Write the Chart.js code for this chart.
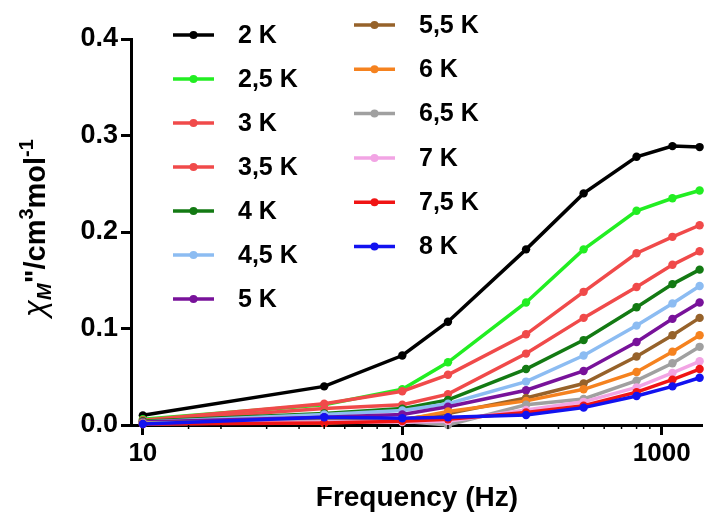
<!DOCTYPE html>
<html>
<head>
<meta charset="utf-8">
<script src="https://cdn.jsdelivr.net/npm/chart.js@4.4.1/dist/chart.umd.min.js"></script>
<style>
  html, body { margin: 0; padding: 0; background: #fff; }
  #wrap { width: 707px; height: 515px; position: relative; }
</style>
</head>
<body>
<div id="wrap"><canvas id="acChart"></canvas></div>
<script>
// frequencies (Hz) and chi'' values per temperature
const freqs = [10, 50, 100, 150, 300, 500, 800, 1100, 1400];
const temps = ['2 K', '2,5 K', '3 K', '3,5 K', '4 K', '4,5 K', '5 K', '5,5 K', '6 K', '6,5 K', '7 K', '7,5 K', '8 K'];
const colors = ['#000000', '#22ee22', '#f04a4a', '#f04a4a', '#137a13', '#8cbcf2', '#78129a',
                '#96622a', '#f5821f', '#a0a0a0', '#f2a4e4', '#f01414', '#1212f0'];

const chi2K   = [0.010, 0.040, 0.072, 0.107, 0.182, 0.240, 0.278, 0.289, 0.288];
const chi25K  = [0.006, 0.021, 0.037, 0.065, 0.127, 0.182, 0.222, 0.235, 0.243];
const chi3K   = [0.005, 0.022, 0.035, 0.052, 0.094, 0.138, 0.178, 0.195, 0.207];
const chi35K  = [0.004, 0.017, 0.021, 0.032, 0.074, 0.111, 0.143, 0.166, 0.180];
const chi4K   = [0.004, 0.012, 0.017, 0.026, 0.058, 0.088, 0.122, 0.146, 0.161];
const chi45K  = [0.003, 0.011, 0.015, 0.022, 0.045, 0.072, 0.103, 0.126, 0.144];
const chi5K   = [0.003, 0.008, 0.011, 0.019, 0.036, 0.056, 0.086, 0.110, 0.127];
const chi55K  = [0.002, 0.005, 0.006, 0.012, 0.028, 0.043, 0.071, 0.093, 0.111];
const chi6K   = [0.002, 0.002, 0.005, 0.014, 0.025, 0.037, 0.055, 0.076, 0.093];
const chi65K  = [0.002, 0.004, 0.004, 0.000, 0.021, 0.027, 0.046, 0.064, 0.081];
const chi7K   = [0.001, 0.003, 0.003, 0.004, 0.0155, 0.024, 0.039, 0.054, 0.066];
const chi75K  = [0.001, 0.002, 0.004, 0.006, 0.013, 0.020, 0.034, 0.047, 0.058];
const chi8K   = [0.001, 0.008, 0.007, 0.008, 0.0104, 0.018, 0.030, 0.040, 0.049];

const series = [chi2K, chi25K, chi3K, chi35K, chi4K, chi45K, chi5K, chi55K, chi6K, chi65K, chi7K, chi75K, chi8K];
const yTicks = [0, 0.1, 0.2, 0.3, 0.4];

const FONT = 'Liberation Sans, Arial, sans-serif';

function isPow10(v) {
    const l = Math.log10(v);
    return Math.abs(l - Math.round(l)) < 1e-9;
}

// build datasets
const datasets = series.map((vals, i) => ({
    label: temps[i],
    data: vals.map((v, j) => ({ x: freqs[j], y: v })),
    borderColor: colors[i],
    backgroundColor: colors[i],
    borderWidth: 3.5,
    pointRadius: 4.2,
    pointBorderWidth: 0,
    pointBackgroundColor: colors[i],
    tension: 0,
    clip: false,
    order: series.length - i
}));

// minor ticks on the log axis
const minorTicks = {
    id: 'minorTicks',
    afterDraw(chart) {
        const x = chart.scales.x;
        const ctx = chart.ctx;
        const y0 = chart.chartArea.bottom;
        ctx.save();
        ctx.strokeStyle = '#000';
        ctx.lineWidth = 1.5;
        x.ticks.forEach(t => {
            if (isPow10(t.value)) return;
            if (t.value <= x.min || t.value >= x.max) return;
            const px = x.getPixelForValue(t.value);
            ctx.beginPath();
            ctx.moveTo(px, y0);
            ctx.lineTo(px, y0 + 4);
            ctx.stroke();
        });
        ctx.restore();
    }
};

// y axis title with sub/superscripts
const yTitle = {
    id: 'yTitle',
    afterDraw(chart) {
        const ctx = chart.ctx;
        const parts = [
            { t: '\u03C7', f: 'italic 31px ' + FONT, dy: 0 },
            { t: 'M', f: 'italic bold 20px ' + FONT, dy: 6 },
            { t: '"/cm', f: 'bold 29px ' + FONT, dy: 0 },
            { t: '3', f: 'bold 20px ' + FONT, dy: -12 },
            { t: 'mol', f: 'bold 29px ' + FONT, dy: 0 },
            { t: '-1', f: 'bold 20px ' + FONT, dy: -12 }
        ];
        ctx.save();
        let total = 0;
        parts.forEach(p => { ctx.font = p.f; p.w = ctx.measureText(p.t).width; total += p.w; });
        ctx.translate(36, 228);
        ctx.rotate(-Math.PI / 2);
        ctx.fillStyle = '#000';
        ctx.textBaseline = 'alphabetic';
        let cx = -total / 2;
        parts.forEach(p => {
            ctx.font = p.f;
            ctx.fillText(p.t, cx, 9 + p.dy);
            cx += p.w;
        });
        ctx.restore();
    }
};

// two-column legend inside the plot
const sideLegend = {
    id: 'sideLegend',
    afterDraw(chart) {
        const ctx = chart.ctx;
        ctx.save();
        chart.data.datasets.forEach((ds, i) => {
            let x0, y, tx;
            if (i < 7) { x0 = 173; y = 35 + i * 44; tx = 238; }
            else { x0 = 354; y = 25 + (i - 7) * 44.3; tx = 419; }
            ctx.strokeStyle = ds.borderColor;
            ctx.lineWidth = 3.5;
            ctx.beginPath();
            ctx.moveTo(x0, y);
            ctx.lineTo(x0 + 41, y);
            ctx.stroke();
            ctx.fillStyle = ds.borderColor;
            ctx.beginPath();
            ctx.arc(x0 + 20.5, y, 4, 0, Math.PI * 2);
            ctx.fill();
            ctx.fillStyle = '#000';
            ctx.font = 'bold 25px ' + FONT;
            ctx.textBaseline = 'middle';
            ctx.fillText(ds.label, tx, y + 1);
        });
        ctx.restore();
    }
};

const ctx = document.getElementById('acChart').getContext('2d');
new Chart(ctx, {
    type: 'line',
    data: { datasets: datasets },
    plugins: [minorTicks, yTitle, sideLegend],
    options: {
        responsive: true,
        maintainAspectRatio: false,
        animation: false,
        layout: { padding: { left: 0, right: 4, top: 39, bottom: 0 } },
        plugins: {
            legend: { display: false },
            tooltip: { enabled: false }
        },
        scales: {
            x: {
                type: 'logarithmic',
                min: 9,
                max: 1440,
                afterFit(scale) { scale.height = 90; },
                border: { display: true, color: '#000', width: 3 },
                grid: {
                    drawOnChartArea: false,
                    drawTicks: true,
                    tickLength: 10,
                    tickWidth: 3,
                    tickColor: c => (c.tick && isPow10(c.tick.value)) ? '#000' : 'rgba(0,0,0,0)'
                },
                ticks: {
                    autoSkip: false,
                    maxRotation: 0,
                    padding: 3,
                    color: '#000',
                    font: { family: FONT, size: 26, weight: 'bold' },
                    callback: v => isPow10(v) ? String(Math.round(v)) : ''
                },
                title: {
                    display: true,
                    text: 'Frequency (Hz)',
                    color: '#000',
                    font: { family: FONT, size: 28, weight: 'bold' },
                    padding: { top: 0, bottom: 0 }
                }
            },
            y: {
                min: 0,
                max: 0.4,
                afterFit(scale) { scale.width = 131; },
                afterBuildTicks(scale) { scale.ticks = yTicks.map(v => ({ value: v })); },
                border: { display: true, color: '#000', width: 3 },
                grid: {
                    drawOnChartArea: false,
                    tickLength: 10,
                    tickWidth: 3,
                    tickColor: '#000'
                },
                ticks: {
                    padding: 3,
                    color: '#000',
                    font: { family: FONT, size: 27, weight: 'bold' },
                    callback: v => Number(v).toFixed(1)
                }
            }
        }
    }
});
</script>
</body>
</html>
